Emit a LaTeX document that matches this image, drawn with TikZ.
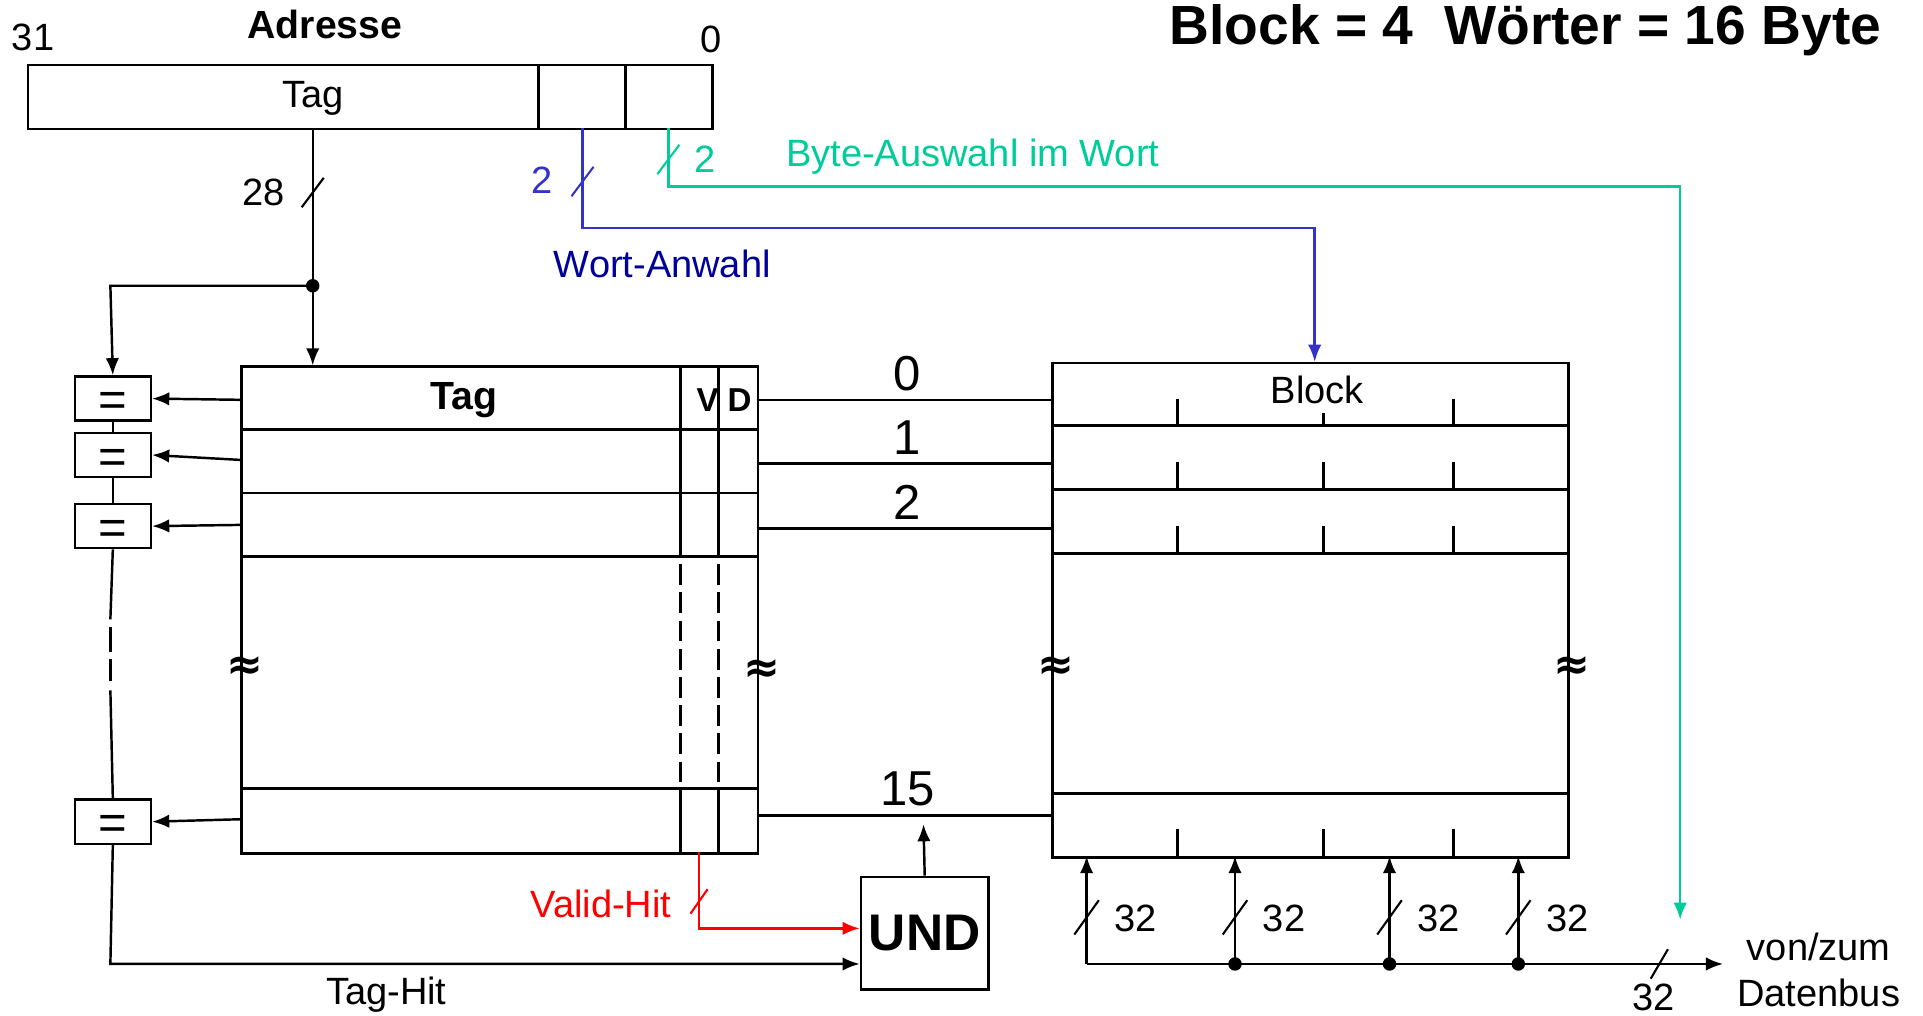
\documentclass[tikz,border=0pt]{standalone}
\usepackage{fontspec}
\setmainfont{Liberation Sans}
\newfontfamily\symfont{DejaVu Sans}
\usetikzlibrary{arrows.meta}
\definecolor{wblue}{RGB}{51,51,204}
\definecolor{wdblue}{RGB}{0,0,153}
\definecolor{bgreen}{RGB}{0,204,153}
\definecolor{vred}{RGB}{255,0,0}
\tikzset{
  box/.style={draw, rectangle, inner sep=0pt, anchor=north west, line width=2pt},
  arr/.style={-{Latex[length=14pt,width=11pt]}},
  lbl/.style={font=\fontsize{31}{36}\selectfont, inner sep=0pt},
  big/.style={font=\fontsize{40}{46}\selectfont, inner sep=0pt},
  slashmark/.style={line width=1.7pt},
  dotmark/.style={circle, fill, inner sep=0pt, minimum size=11pt},
  brk/.style={inner sep=0pt, font=\fontsize{36}{40}\selectfont\symfont\bfseries},
}
\begin{document}
\begin{tikzpicture}[x=1pt,y=-1pt,line width=2pt]
\useasboundingbox (0,0) rectangle (1568,828);

% ---------- titles ----------
\node[lbl,font=\fontsize{32}{36}\selectfont\bfseries,anchor=base] (adr) at (265,31) {Adresse};
\node[lbl,anchor=base] (b31) at (27,41) {31};
\node[lbl,anchor=base] (b0) at (580,43) {0};
\node[inner sep=0pt,anchor=base east,font=\fontsize{45}{50}\selectfont\bfseries] (title) at (1535,36) {Block = 4\ \ Wörter = 16 Byte};

% ---------- address register ----------
\node[box,minimum width=416pt,minimum height=52pt] (tagf) at (22,52) {};
\node[box,minimum width=71pt,minimum height=52pt] (wordf) at (438,52) {};
\node[box,minimum width=71pt,minimum height=52pt] (bytef) at (509,52) {};
\node[lbl] at (255,80) {Tag};

% ---------- tag memory ----------
\node[box,minimum width=421pt,minimum height=397pt,line width=2.2pt] (tagmem) at (196,298) {};
\foreach \yy in {350,402,454,643}{\draw[line width=2.4pt] (196,\yy) -- (617,\yy);}
\foreach \xx in {555,586}{
  \draw (\xx,298) -- (\xx,454);
  \draw[dash pattern=on 17pt off 6pt] (\xx,460) -- (\xx,643);
  \draw (\xx,643) -- (\xx,695);
}
\node[lbl,font=\fontsize{32}{36}\selectfont\bfseries] at (378,326) {Tag};
\node[inner sep=0pt,font=\fontsize{27}{30}\selectfont\bfseries] at (577,326) {V};
\node[inner sep=0pt,font=\fontsize{27}{30}\selectfont\bfseries] at (603,326) {D};
\node[brk] at (200,545) {≈};
\node[brk] at (621,547) {≈};

% ---------- comparators ----------
\foreach \n/\yy in {0/306,1/352,2/410,3/651}{
  \node[box,minimum width=62pt,minimum height=36pt] (cmp\n) at (60,\yy) {};
  \node[inner sep=0pt,font=\fontsize{40}{44}\selectfont] at ([yshift=-5pt]cmp\n.center) {=};
}
\draw[arr] (196,326) -- (cmp0.east);
\draw[arr] (196,375) -- (cmp1.east);
\draw[arr] (196,428) -- (cmp2.east);
\draw[arr] (196,668) -- (cmp3.east);
\draw (cmp0.south) -- (cmp1.north);
\draw (cmp1.south) -- (cmp2.north);
\draw (cmp2.south) -- (90,505);
\draw (90,511) -- (90,532);
\draw (90,537) -- (90,555);
\draw (90,563) -- (cmp3.north);

% ---------- tag path ----------
\coordinate (tagout) at (255,104);
\coordinate (tagin) at (255,298);
\coordinate (split) at (255,233);
\draw[arr] (tagout) -- (tagin);
\draw[arr] (split) -- (90,233) -- (cmp0.north);
\node[dotmark] at (split) {};
\draw[slashmark] (255,157) ++(-9,12) -- ++(18,-24);
\node[lbl] at (215,157) {28};

% ---------- block memory ----------
\node[box,minimum width=421pt,minimum height=403pt,line width=2.2pt] (blk) at (857,295) {};
\foreach \yy in {347,399,451,647}{\draw[line width=2.4pt] (857,\yy) -- (1278,\yy);}
\draw (960,325) -- (960,347);
\draw (1079,337) -- (1079,347);
\draw (1185,325) -- (1185,347);
\foreach \xx in {960,1079,1185}{
  \draw (\xx,377) -- (\xx,399);
  \draw (\xx,429) -- (\xx,451);
  \draw (\xx,676) -- (\xx,698);
}
\node[lbl] at (1074,318) {Block};
\node[brk] at (861,545) {≈};
\node[brk] at (1282,545) {≈};

% ---------- row lines ----------
\draw (617,326) -- (857,326);
\draw (617,378) -- (857,378);
\draw (617,431) -- (857,431);
\draw (617,665) -- (857,665);
\node[big] at (740,305) {0};
\node[big] at (740,357) {1};
\node[big] at (740,410) {2};
\node[big] at (740,643) {15};

% ---------- word select (blue) ----------
\coordinate (wout) at (475,104);
\coordinate (win) at (1072,295);
\draw[wblue,arr] (wout) -- (475,186) -- (1072,186) -- (win);
\draw[wblue,slashmark] (475,148) ++(-9,12) -- ++(18,-24);
\node[lbl,wblue] at (442,147) {2};
\node[lbl,wdblue] at (540,215) {Wort-Anwahl};

% ---------- byte select (green) ----------
\coordinate (bout) at (545,104);
\coordinate (bin) at (1370,750);
\draw[bgreen,arr] (bout) -- (545,152) -- (1370,152) -- (bin);
\draw[bgreen,slashmark] (545,130) ++(-9,12) -- ++(18,-24);
\node[lbl,bgreen] at (575,130) {2};
\node[lbl,bgreen,anchor=west] at (640,128) {Byte-Auswahl im Wort};

% ---------- UND ----------
\node[box,minimum width=104pt,minimum height=92pt] (und) at (701,714) {};
\node[inner sep=0pt,font=\fontsize{42}{46}\selectfont\bfseries] at (und.center) {UND};
\draw[arr] (und.north) -- (753,672);
\coordinate (vout) at (570,695);
\draw[vred,arr] (vout) -- (570,757) -- (und.west |- 0,757);
\draw[vred,slashmark] (570,735) ++(-7,10) -- ++(14,-20);
\node[lbl,vred] at (490,737) {Valid-Hit};
\draw[arr] (cmp3.south) -- (90,786) -- (und.west |- 0,786);
\node[lbl] at (315,811) {Tag-Hit};

% ---------- data bus ----------
\coordinate (busend) at (1405,786);
\draw[arr] (886,786) -- (busend);
\foreach \xx in {886,1007,1133,1238}{
  \draw[arr] (\xx,786) -- (\xx,698);
  \draw[slashmark] (\xx,748) ++(-10,14) -- ++(20,-28);
  \node[lbl] at (\xx+40,749) {32};
}
\foreach \xx in {1007,1133,1238}{\node[dotmark] at (\xx,786) {};}
\draw[slashmark] (1353,786) ++(-7,12) -- ++(14,-24);
\node[lbl,anchor=base] at (1348,824) {32};
\node[lbl] at (1483,772) {von/zum};
\node[lbl] at (1483,810) {Datenbus};
\end{tikzpicture}
\end{document}
